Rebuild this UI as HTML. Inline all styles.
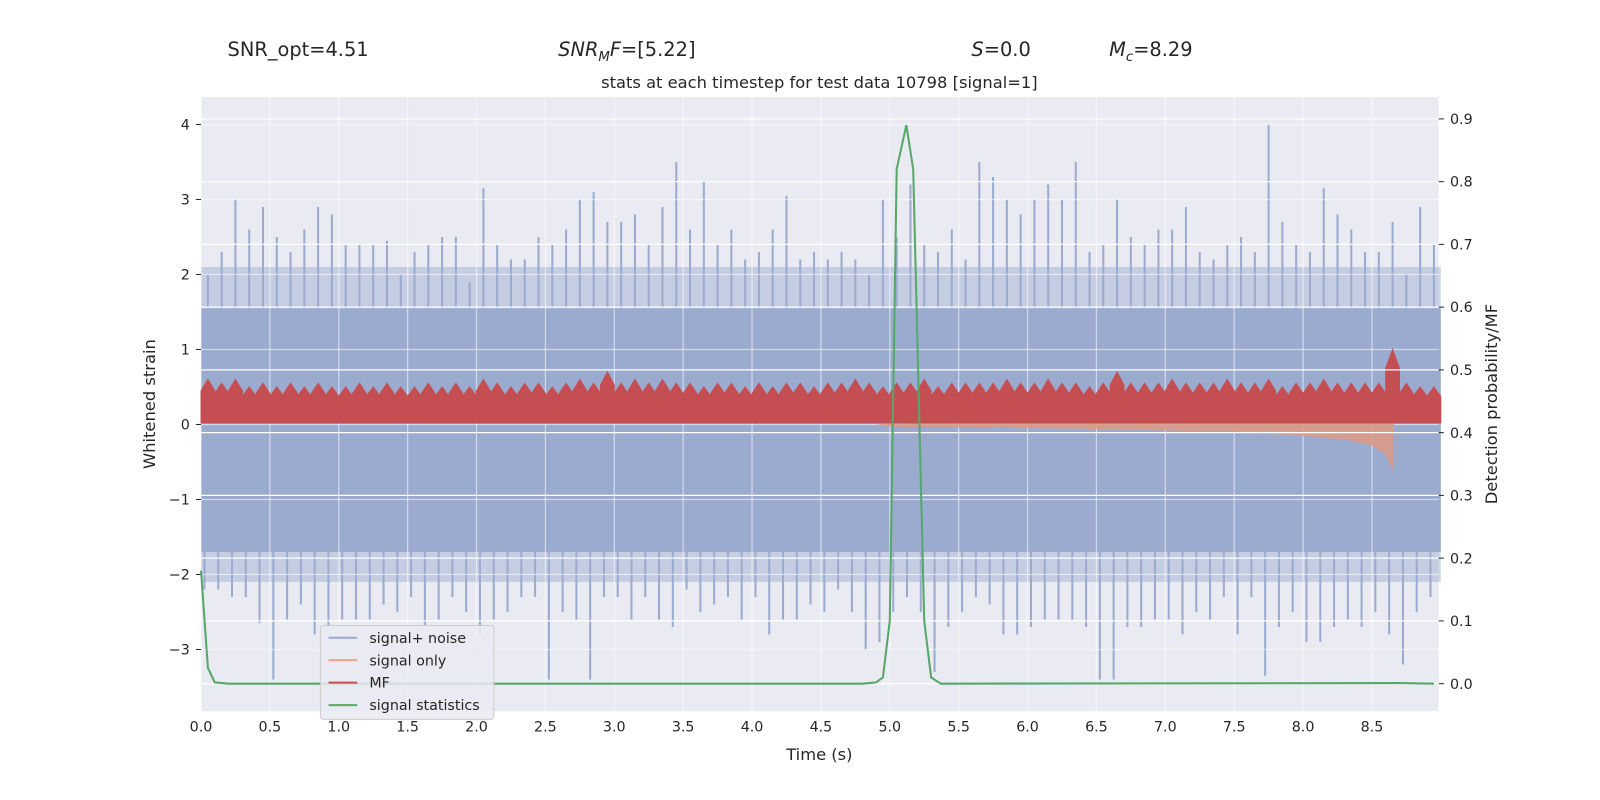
<!DOCTYPE html>
<html><head><meta charset="utf-8"><style>
html,body{margin:0;padding:0;background:#fff;overflow:hidden;width:1600px;height:800px;font-family:"DejaVu Sans","Liberation Sans",sans-serif;}
svg{display:block;}
svg text{font-family:"DejaVu Sans","Liberation Sans",sans-serif;fill:#262626;}
</style></head><body>
<svg id="chart" width="1600" height="800" xmlns="http://www.w3.org/2000/svg">
<rect width="1600" height="800" fill="#fff"/>
<g transform="scale(1.0204)">
<g id="plot"></g>
<text x="223" y="55" font-size="19">SNR_opt=4.51</text>
<text x="547" y="55" font-size="19"><tspan font-style="italic">SNR</tspan><tspan font-style="italic" font-size="13" dy="5">M</tspan><tspan font-style="italic" dy="-5">F</tspan>=[5.22]</text>
<text x="952" y="55" font-size="19"><tspan font-style="italic">S</tspan>=0.0</text>
<text x="1087" y="55" font-size="19"><tspan font-style="italic">M</tspan><tspan font-style="italic" font-size="13" dy="5">c</tspan><tspan dy="-5">=8.29</tspan></text>
<text x="803" y="86" font-size="16" text-anchor="middle">stats at each timestep for test data 10798 [signal=1]</text>
<text x="803" y="745" font-size="16" text-anchor="middle">Time (s)</text>
<text transform="translate(152,396) rotate(-90)" font-size="16" text-anchor="middle">Whitened strain</text>
<text transform="translate(1467,396) rotate(-90)" font-size="16" text-anchor="middle">Detection probability/MF</text>
</g>
</svg>
<script>
const binStart = 0, binWidth = 0.1;
const noiseTop = [2.0,2.3,3.0,2.6,2.9,2.5,2.3,2.6,2.9,2.8,2.4,2.4,2.4,2.45,2.0,2.3,2.4,2.5,2.5,1.9,3.15,2.4,2.2,2.2,2.5,2.4,2.6,3.0,3.1,2.7,2.7,2.8,2.4,2.9,3.5,2.6,3.25,2.4,2.6,2.2,2.3,2.6,3.05,2.2,2.3,2.2,2.3,2.2,2.0,3.0,2.5,3.2,2.4,2.3,2.6,2.2,3.5,3.3,3.0,2.8,3.0,3.2,3.0,3.5,2.3,2.4,3.0,2.5,2.4,2.6,2.6,2.9,2.3,2.2,2.4,2.5,2.3,4.0,2.7,2.4,2.3,3.15,2.8,2.6,2.3,2.3,2.7,2.0,2.9,2.4];
const noiseBot = [-2.2,-2.2,-2.3,-2.3,-2.65,-3.4,-2.6,-2.4,-2.8,-2.7,-2.6,-2.6,-2.6,-2.4,-2.5,-2.3,-2.7,-2.6,-2.3,-2.5,-2.8,-2.6,-2.5,-2.3,-2.3,-3.4,-2.5,-2.6,-3.4,-2.3,-2.3,-2.6,-2.3,-2.6,-2.7,-2.2,-2.5,-2.4,-2.3,-2.6,-2.3,-2.8,-2.6,-2.6,-2.4,-2.5,-2.2,-2.5,-3.0,-2.9,-2.5,-2.3,-2.5,-3.3,-2.7,-2.5,-2.3,-2.4,-2.8,-2.8,-2.7,-2.6,-2.6,-2.6,-2.7,-3.4,-3.4,-2.7,-2.7,-2.6,-2.6,-2.8,-2.5,-2.6,-2.3,-2.8,-2.3,-3.35,-2.7,-2.5,-2.9,-2.9,-2.7,-2.6,-2.7,-2.5,-2.8,-3.2,-2.5,-2.3];
const bandTop = 1.55, bandBot = -1.7;
const fuzzTop = 2.1, fuzzBot = -2.1;
const mfTop = [0.6,0.55,0.6,0.5,0.55,0.5,0.55,0.5,0.55,0.5,0.5,0.55,0.5,0.55,0.5,0.5,0.55,0.5,0.55,0.5,0.6,0.55,0.5,0.55,0.55,0.5,0.55,0.6,0.55,0.7,0.55,0.6,0.55,0.6,0.55,0.55,0.5,0.55,0.55,0.5,0.55,0.5,0.55,0.55,0.5,0.55,0.55,0.6,0.55,0.5,0.55,0.55,0.6,0.5,0.55,0.55,0.55,0.55,0.6,0.55,0.55,0.6,0.55,0.55,0.5,0.55,0.7,0.55,0.55,0.55,0.6,0.55,0.55,0.55,0.6,0.55,0.55,0.6,0.5,0.55,0.55,0.6,0.55,0.55,0.55,0.55,1.0,0.55,0.5,0.5];
const mfBot = 0.02;
const sigT = [4.9,5.0,5.5,6.0,6.5,7.0,7.5,8.0,8.3,8.5,8.6,8.66];
const sigAmp = [0.0,0.03,0.04,0.05,0.06,0.08,0.1,0.15,0.2,0.28,0.4,0.65];
const statT = [0,0.05,0.1,0.2,4.8,4.9,4.95,5.0,5.05,5.12,5.17,5.25,5.3,5.37,8.7,8.95];
const statP = [0.18,0.025,0.002,0,0,0.002,0.01,0.1,0.82,0.89,0.82,0.1,0.01,0,0.001,0];
const xTicks = [0,0.5,1,1.5,2,2.5,3,3.5,4,4.5,5,5.5,6,6.5,7,7.5,8,8.5];
const yTicks = [-3,-2,-1,0,1,2,3,4];
const y2Ticks = [0,0.1,0.2,0.3,0.4,0.5,0.6,0.7,0.8,0.9];

const L=197,R=1410,T=95,B=697;
const X=t=>L+135*t;
const Y=v=>416-73.5*v;
const Y2=p=>670-615*p;
const NS="http://www.w3.org/2000/svg";
const g=document.getElementById('plot');
function mk(tag,attrs,parent){const e=document.createElementNS(NS,tag);for(const k in attrs)e.setAttribute(k,attrs[k]);(parent||g).appendChild(e);return e;}
const bg=mk('rect',{x:L,y:T,width:R-L,height:B-T,fill:'#eaeaf2'});


const xEnd=X(noiseTop.length*binWidth);
const fz1=mk('rect',{x:X(0),y:Y(fuzzTop),width:xEnd-X(0),height:Y(bandTop)-Y(fuzzTop),fill:'#9aabcf',opacity:0.45});


const fz2=mk('rect',{x:X(0),y:Y(bandBot),width:xEnd-X(0),height:Y(fuzzBot)-Y(bandBot),fill:'#9aabcf',opacity:0.45});


const band=mk('rect',{x:X(0),y:Y(bandTop),width:xEnd-X(0),height:Y(bandBot)-Y(bandTop),fill:'#9aabcf'});


noiseTop.forEach((v,i)=>{const t=binStart+i*binWidth;
const a=mk('line',{x1:X(t+binWidth*0.5),x2:X(t+binWidth*0.5),y1:Y(bandTop),y2:Y(v),stroke:'#9aabcf','stroke-width':2});


const b=mk('line',{x1:X(t+binWidth*0.25),x2:X(t+binWidth*0.25),y1:Y(bandBot),y2:Y(noiseBot[i]),stroke:'#9aabcf','stroke-width':2});

});
xTicks.forEach(t=>{const l=mk('line',{x1:X(t),x2:X(t),y1:T,y2:B,stroke:'#fff','stroke-width':1.2,opacity:0.55});


const tx=mk('text',{x:X(t),y:B+20,'font-size':14,'text-anchor':'middle'});tx.textContent=t.toFixed(1);

});
yTicks.forEach(v=>{const l=mk('line',{x1:L,x2:R,y1:Y(v),y2:Y(v),stroke:'#fff','stroke-width':1.2,opacity:0.55});


const tx=mk('text',{x:L-11,y:Y(v)+5,'font-size':14,'text-anchor':'end'});tx.textContent=(v<0?'\u2212':'')+Math.abs(v);


mk('line',{x1:L-5,x2:L,y1:Y(v),y2:Y(v),stroke:'#262626'});});
let d='M'+X(sigT[0])+','+Y(0);
sigT.forEach((t,i)=>d+=' L'+X(t)+','+Y(sigAmp[i]*0.3));
for(let i=sigT.length-1;i>=0;i--)d+=' L'+X(sigT[i])+','+Y(-sigAmp[i]);
const so=mk('path',{d:d+'Z',fill:'#d99a86',opacity:0.9});


let m='M'+X(0)+','+Y(mfBot);
mfTop.forEach((v,i)=>{const t=i*binWidth;m+=' L'+X(t)+','+Y(v*0.75)+' L'+X(t+binWidth*0.5)+','+Y(v)+' L'+X(t+binWidth)+','+Y(v*0.75);});
m+=' L'+X(mfTop.length*binWidth)+','+Y(mfBot)+'Z';
const mf=mk('path',{d:m,fill:'#c44e52',stroke:'#c44e52','stroke-width':1});


y2Ticks.forEach(p=>{const l=mk('line',{x1:L,x2:R,y1:Y2(p),y2:Y2(p),stroke:'#fff','stroke-width':1.2});


mk('line',{x1:R,x2:R+5,y1:Y2(p),y2:Y2(p),stroke:'#262626'});
const tx=mk('text',{x:R+11,y:Y2(p)+5,'font-size':14});tx.textContent=p.toFixed(1);

});
const st=mk('polyline',{points:statT.map((t,i)=>X(t)+','+Y2(statP[i])).join(' '),fill:'none',stroke:'#55a868','stroke-width':2});


const lg=mk('g',{});


mk('rect',{x:314,y:613,width:170,height:92,rx:3,fill:'#eaeaf2',stroke:'#ccc','fill-opacity':0.85},lg);
[['signal+ noise','#9aabcf'],['signal only','#e8a98f'],['MF','#c44e52'],['signal statistics','#55a868']].forEach((e,i)=>{
const y=625+i*22;
const ln=mk('line',{x1:322,x2:350,y1:y,y2:y,stroke:e[1],'stroke-width':2},lg);


const tx=mk('text',{x:362,y:y+5,'font-size':14},lg);tx.textContent=e[0];

});
</script>
</body></html>
